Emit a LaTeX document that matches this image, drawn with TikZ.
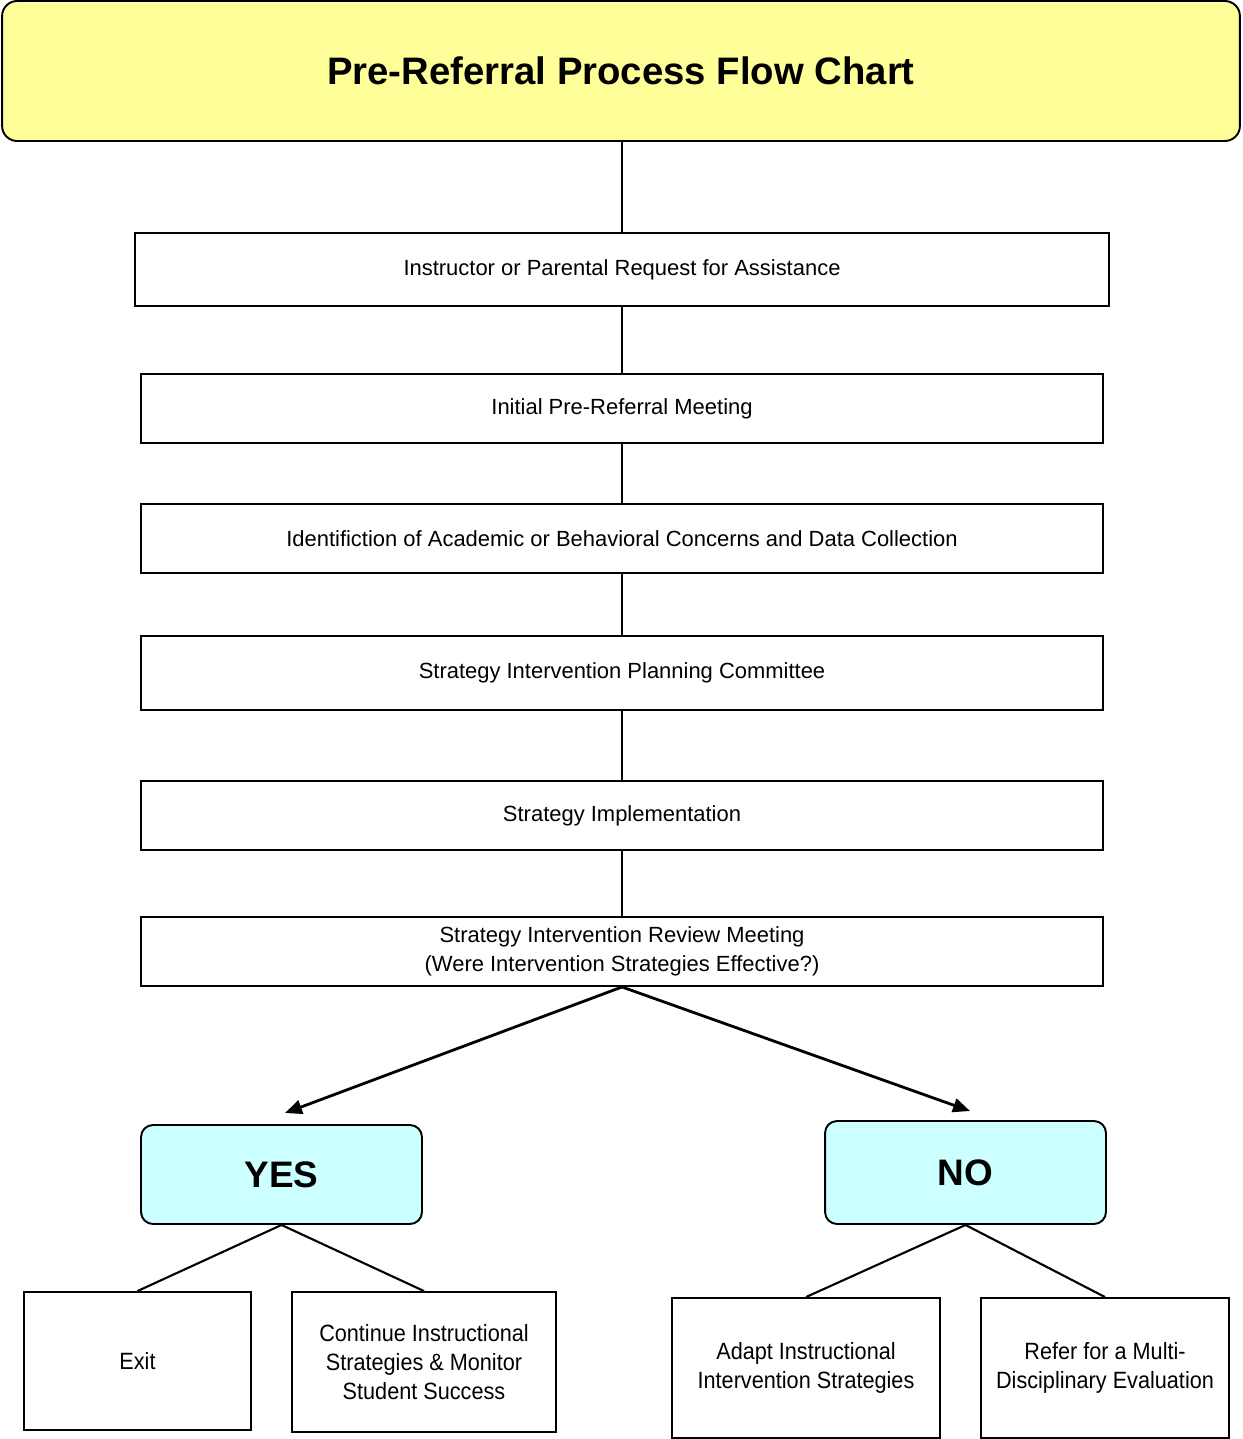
\documentclass[tikz,border=0pt]{standalone}
\usepackage{fontspec}
\setmainfont{Liberation Sans}
\newfontfamily\narrowfont[FakeStretch=0.92]{Liberation Sans}
\usetikzlibrary{arrows.meta}

\tikzset{
	titlebox/.style = {draw, line width = 1.1pt, fill = titleyellow, rounded corners = 0.3cm,
		minimum width = 24.76cm, minimum height = 2.8cm, inner sep = 0pt,
		font = \fontsize{21.8pt}{26pt}\selectfont\bfseries},
	stepbox/.style = {draw, line width = 1.1pt, minimum width = 19.26cm, minimum height = 1.38cm,
		inner sep = 0pt, align = center, font = \fontsize{12.5pt}{16.5pt}\selectfont},
	answerbox/.style = {draw, line width = 1.1pt, fill = answercyan, rounded corners = 0.24cm,
		minimum width = 5.62cm, inner sep = 0pt, font = \fontsize{21pt}{25pt}\selectfont\bfseries},
	outcomebox/.style = {draw, line width = 1.1pt, minimum height = 2.8cm, inner sep = 0pt,
		align = center, font = \narrowfont\fontsize{13.4pt}{16.5pt}\selectfont},
	link/.style = {line width = 1.2pt},
	branch/.style = {line width = 1.6pt, ->}
}
\definecolor{titleyellow}{HTML}{FFFF99}
\definecolor{answercyan}{HTML}{CCFFFF}

\begin{document}
\begin{tikzpicture}[x = 0.02cm, y = -0.02cm, > = {Triangle[length = 0.34cm, width = 0.28cm]}]

	\useasboundingbox (0, 0) rectangle (1242, 1439);

	% Title

	\node [titlebox] (title) at (621, 71) {Pre-Referral Process Flow Chart};

	% Steps

	\node [stepbox, minimum width = 19.5cm, minimum height = 1.46cm] (request) at (622, 269.5) {Instructor or Parental Request for Assistance};
	\node [stepbox] (meeting) at (622, 408.5) {Initial Pre-Referral Meeting};
	\node [stepbox] (concerns) at (622, 538.5) {Identifiction of Academic or Behavioral Concerns and Data Collection};
	\node [stepbox, minimum height = 1.48cm] (planning) at (622, 673) {Strategy Intervention Planning Committee};
	\node [stepbox] (implement) at (622, 815.5) {Strategy Implementation};
	\node [stepbox] (review) at (622, 951.5) {Strategy Intervention Review Meeting\\(Were Intervention Strategies Effective?)};

	\draw [link] (title.south -| request.north) -- (request.north);
	\draw [link] (request.south) -- (meeting.north);
	\draw [link] (meeting.south) -- (concerns.north);
	\draw [link] (concerns.south) -- (planning.north);
	\draw [link] (planning.south) -- (implement.north);
	\draw [link] (implement.south) -- (review.north);

	% Answers

	\node [answerbox, minimum height = 1.98cm] (yes) at (281.5, 1174.5) {YES};
	\node [answerbox, minimum height = 2.06cm] (no) at (965.5, 1172.5) {NO};

	\coordinate (yestip) at (285, 1113);
	\coordinate (notip) at (970, 1111);

	\draw [branch] (review.south) -- (yestip);
	\draw [branch] (review.south) -- (notip);

	% Outcomes

	\node [outcomebox, minimum width = 4.54cm, minimum height = 2.76cm] (exit) at (137.5, 1361) {Exit};
	\node [outcomebox, minimum width = 5.28cm] (continue) at (424, 1362) {Continue Instructional\\Strategies \& Monitor\\Student Success};
	\node [outcomebox, minimum width = 5.36cm] (adapt) at (806, 1368) {Adapt Instructional\\Intervention Strategies};
	\node [outcomebox, minimum width = 4.96cm] (refer) at (1105, 1368) {Refer for a Multi-\\Disciplinary Evaluation};

	\draw [link] (yes.south) -- (exit.north);
	\draw [link] (yes.south) -- (continue.north);
	\draw [link] (no.south) -- (adapt.north);
	\draw [link] (no.south) -- (refer.north);

\end{tikzpicture}
\end{document}
